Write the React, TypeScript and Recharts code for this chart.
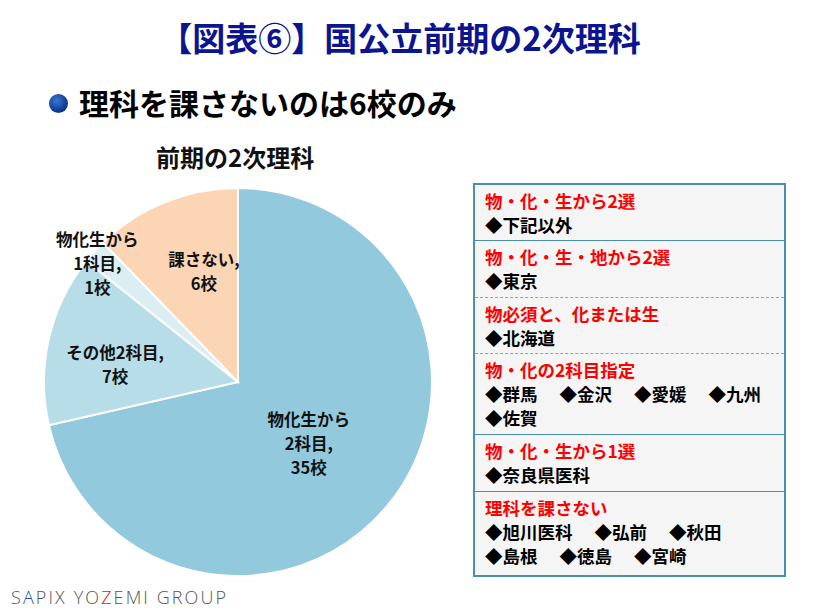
import { PieChart, Pie, Cell } from "recharts"

const FONT = '"Noto Sans CJK JP", "Noto Sans", sans-serif'

// pie data
const sliceNames = ["物化生から2科目", "その他2科目", "物化生から1科目", "課さない"]
const sliceCounts = [35, 7, 1, 6]
const sliceColors = ["#92c9dc", "#b7dde8", "#dbeef4", "#fcd5b5"]
const sliceLabels = [
  ["物化生から", "2科目,", "35校"],
  ["その他2科目,", "7校"],
  ["物化生から", "1科目,", "1校"],
  ["課さない,", "6校"],
]

// side table
const ruleHeads = [
  "物・化・生から2選",
  "物・化・生・地から2選",
  "物必須と、化または生",
  "物・化の2科目指定",
  "物・化・生から1選",
  "理科を課さない",
]
const ruleSchools = [
  [["下記以外"]],
  [["東京"]],
  [["北海道"]],
  [["群馬", "金沢", "愛媛", "九州"], ["佐賀"]],
  [["奈良県医科"]],
  [["旭川医科", "弘前", "秋田"], ["島根", "徳島", "宮崎"]],
]
const rowHeights = [57, 58, 57, 82, 58, 83]
const rowBorders = ["solid", "dashed", "dashed", "solid", "solid", ""]

const pieData = sliceNames.map((name, i) => ({ name, value: sliceCounts[i] }))

// label placement: radius fraction + angle nudge per slice
const labelPos = [
  { r: 0.48, da: -2 },
  { r: 0.64, da: 4.5 },
  { r: 0.95, da: 2 },
  { r: 0.6, da: -5 },
]

const RADIAN = Math.PI / 180

function SliceLabel(props: any) {
  const { cx, cy, midAngle, outerRadius, index } = props
  const p = labelPos[index]
  const a = (midAngle + p.da) * RADIAN
  const x = cx + outerRadius * p.r * Math.cos(a)
  const y = cy - outerRadius * p.r * Math.sin(a)
  const lines = sliceLabels[index]
  const lh = 24
  const y0 = y - ((lines.length - 1) * lh) / 2
  return (
    <text x={x} y={y0} textAnchor="middle" fontFamily={FONT} fontWeight={700} fontSize={16.5} fill="#111">
      {lines.map((l, i) => (
        <tspan key={i} x={x} y={y0 + i * lh} dominantBaseline="central">{l}</tspan>
      ))}
    </text>
  )
}

export default function App() {
  return (
    <div style={{ position: "fixed", left: 0, top: 0, width: 820, height: 615, background: "#fff", fontFamily: FONT, overflow: "hidden" }}>
      {/* heading */}
      <div style={{ position: "absolute", left: 0, width: 820, top: 14, textAlign: "center", marginLeft: -10, fontSize: 33, fontWeight: 700, color: "#0d1490", lineHeight: "46px" }}>
        【図表⑥】国公立前期の2次理科
      </div>
      <div style={{ position: "absolute", left: 49, top: 94, width: 19, height: 19, borderRadius: "50%", background: "radial-gradient(circle at 40% 35%, #3a78d0, #0d3c96 60%, #062460)" }} />
      <div style={{ position: "absolute", left: 79, top: 82, fontSize: 30, fontWeight: 700, color: "#000", lineHeight: "40px" }}>
        理科を課さないのは6校のみ
      </div>
      <div style={{ position: "absolute", left: 156, top: 141, fontSize: 24, fontWeight: 700, color: "#111", lineHeight: "32px" }}>
        前期の2次理科
      </div>

      <PieChart width={820} height={615} margin={{ top: 0, right: 0, bottom: 0, left: 0 }} style={{ position: "absolute", left: 0, top: 0 }}>
        <Pie
          data={pieData}
          dataKey="value"
          nameKey="name"
          cx={238}
          cy={382}
          outerRadius={194}
          startAngle={90}
          endAngle={-270}
          stroke="#fff"
          strokeWidth={2}
          label={SliceLabel}
          labelLine={false}
          isAnimationActive={false}
        >
          {pieData.map((_, i) => (
            <Cell key={i} fill={sliceColors[i]} />
          ))}
        </Pie>
      </PieChart>

      {/* rule table */}
      <div style={{ position: "absolute", left: 473, top: 183, width: 309, border: "2px solid #4b8fb0", background: "#f5f5f5" }}>
        {ruleHeads.map((h, i) => (
          <div
            key={i}
            style={{
              height: rowHeights[i] - (rowBorders[i] ? 1 : 0),
              borderBottom: rowBorders[i] === "solid" ? "1.5px solid #4b8fb0" : rowBorders[i] === "dashed" ? "1.5px dashed #5bb4d0" : "none",
              padding: "4px 0 0 10px",
              boxSizing: "border-box",
              fontSize: 17.5,
              fontWeight: 700,
              lineHeight: "24px",
            }}
          >
            <div style={{ color: "#ff0000" }}>{h}</div>
            {ruleSchools[i].map((line, j) => (
              <div key={j} style={{ color: "#000", whiteSpace: "nowrap" }}>
                {line.map((s, k) => (
                  <span key={k} style={{ marginRight: 22 }}>◆{s}</span>
                ))}
              </div>
            ))}
          </div>
        ))}
      </div>

      {/* footer */}
      <div style={{ position: "absolute", left: 11, top: 584, fontFamily: '"Open Sans", sans-serif', fontSize: 18, fontWeight: 300, letterSpacing: 2.1, color: "#555", lineHeight: "26px" }}>
        S<span style={{ color: "#1a4fa8" }}>A</span>PIX YO<span style={{ color: "#e0141e" }}>Z</span>EMI GROUP
      </div>
    </div>
  )
}
